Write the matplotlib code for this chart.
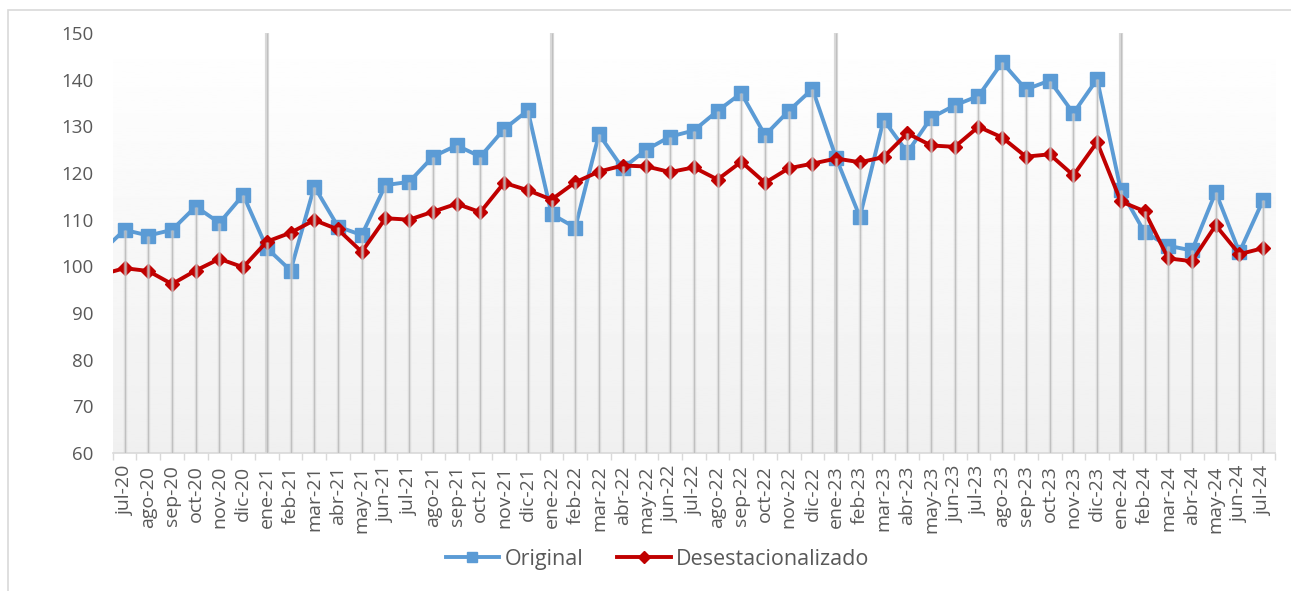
import matplotlib.pyplot as plt
import numpy as np
from matplotlib.patches import Rectangle

plt.rcParams['font.family'] = ['Open Sans', 'DejaVu Sans']

# months (jun-20 is outside the visible range, the line only enters from the left edge)
months = ["jun-20",
          "jul-20", "ago-20", "sep-20", "oct-20", "nov-20", "dic-20",
          "ene-21", "feb-21", "mar-21", "abr-21", "may-21", "jun-21",
          "jul-21", "ago-21", "sep-21", "oct-21", "nov-21", "dic-21",
          "ene-22", "feb-22", "mar-22", "abr-22", "may-22", "jun-22",
          "jul-22", "ago-22", "sep-22", "oct-22", "nov-22", "dic-22",
          "ene-23", "feb-23", "mar-23", "abr-23", "may-23", "jun-23",
          "jul-23", "ago-23", "sep-23", "oct-23", "nov-23", "dic-23",
          "ene-24", "feb-24", "mar-24", "abr-24", "may-24", "jun-24",
          "jul-24"]

original = [103.0,
            107.8, 106.6, 107.8, 112.8, 109.3, 115.3,
            103.9, 99.1, 117.1, 108.5, 106.7, 117.4,
            118.1, 123.5, 125.9, 123.5, 129.4, 133.4,
            111.2, 108.3, 128.3, 121.0, 125.0, 127.8,
            129.1, 133.3, 137.1, 128.1, 133.3, 138.0,
            123.2, 110.6, 131.4, 124.4, 131.8, 134.5,
            136.5, 143.7, 137.9, 139.8, 132.8, 140.1,
            116.3, 107.3, 104.4, 103.4, 115.9, 103.0,
            114.2]

desest = [98.2,
          99.6, 99.0, 96.2, 99.1, 101.6, 99.8,
          105.3, 107.2, 109.9, 107.9, 103.1, 110.3,
          110.0, 111.7, 113.4, 111.6, 117.9, 116.3,
          114.3, 118.0, 120.3, 121.6, 121.4, 120.2,
          121.2, 118.6, 122.4, 117.9, 121.0, 122.0,
          123.1, 122.3, 123.4, 128.5, 125.9, 125.6,
          129.9, 127.6, 123.5, 124.0, 119.5, 126.6,
          113.9, 111.8, 101.7, 101.1, 108.8, 102.6,
          103.9]

x = np.arange(len(months)) - 1   # jul-20 -> 0

fig = plt.figure(figsize=(12.91, 5.91), dpi=100)
ax = fig.add_axes([0.0873, 0.2335, 0.9003, 0.7107])

# outer chart border
fig.patches.append(Rectangle((8 / 1291, -0.1), 1.2, 1 - 10 / 591 + 0.1,
                             transform=fig.transFigure, fill=False,
                             edgecolor='#d9d9d9', linewidth=1.2))

# background gradient (white at top, light grey at bottom)
grad = np.linspace(1.0, 0.94, 256).reshape(-1, 1)
ax.imshow(grad, cmap='gray', vmin=0, vmax=1, aspect='auto',
          extent=[-0.5, 48.5, 60, 150], zorder=0, origin='upper')

# year separators
for i, m in enumerate(months):
    if m.startswith("ene"):
        ax.vlines(x[i], 60, 150, color='#d9d9d9', lw=3, zorder=1)
        ax.vlines(x[i], 60, 150, color='#c0c0c0', lw=0.8, zorder=1)

ax.plot(x, original, color='#5b9bd5', lw=2.8, marker='s', markersize=9.5,
        label='Original', zorder=3)
ax.plot(x, desest, color='#c00000', lw=2.8, marker='D', markersize=7.5,
        label='Desestacionalizado', zorder=4)

# drop lines
top = np.maximum(original, desest)
ax.vlines(x, 60, top, color='#d0d0d0', lw=2.5, alpha=0.6, zorder=5)
ax.vlines(x, 60, top, color='#b8b8b8', lw=0.7, alpha=0.8, zorder=5)

ax.set_xlim(-0.5, 48.5)
ax.set_ylim(60, 150)
ax.set_yticks(range(60, 151, 10))
ax.set_xticks(x[1:])
ax.set_xticklabels(months[1:], rotation=90)
ax.set_xticks(np.arange(-0.5, 49, 1), minor=True)
ax.tick_params(axis='x', which='major', length=0, pad=9,
               labelsize=14, labelcolor='#595959')
ax.tick_params(axis='x', which='minor', length=5, color='#d9d9d9', width=1)
ax.tick_params(axis='y', length=0, pad=14, labelsize=13.5, labelcolor='#595959')

for s in ['left', 'right', 'top']:
    ax.spines[s].set_visible(False)
ax.spines['bottom'].set_color('#d9d9d9')
ax.spines['bottom'].set_linewidth(1.2)

leg = fig.legend(loc='center', bbox_to_anchor=(0.5093, 0.054), ncol=2,
                 frameon=False, fontsize=15.5, handlelength=2.5,
                 handletextpad=0.25, columnspacing=1.55)
for t in leg.get_texts():
    t.set_color('#595959')
for h in leg.legend_handles:
    h.set_markersize(6.5)

fig.savefig('out.png', dpi=100)
